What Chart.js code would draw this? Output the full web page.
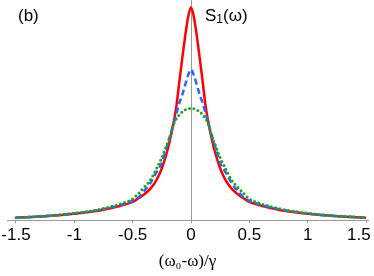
<!DOCTYPE html>
<html>
<head>
<meta charset="utf-8">
<script src="https://cdn.jsdelivr.net/npm/chart.js@4/dist/chart.umd.min.js"></script>
<style>
  html, body { margin: 0; padding: 0; background: #fff; }
  #wrap { width: 374px; height: 276px; position: relative; }
</style>
</head>
<body>
<div id="wrap"><canvas id="chart"></canvas></div>
<script>
// detuning (ω0-ω)/γ
const XS = [-1.5, -1.25, -1.0, -0.8, -0.7, -0.6, -0.5, -0.45, -0.4, -0.35, -0.3, -0.25, -0.2, -0.175, -0.15, -0.125, -0.1, -0.075, -0.05, -0.025,
  0, 0.025, 0.05, 0.075, 0.1, 0.125, 0.15, 0.175, 0.2, 0.25, 0.3, 0.35, 0.4, 0.45, 0.5, 0.6, 0.7, 0.8, 1.0, 1.25, 1.5];

// S1(ω) (red peak = 1)
const RED = [0.012, 0.019, 0.030, 0.044, 0.055, 0.068, 0.086, 0.103, 0.122, 0.147, 0.185, 0.243, 0.332, 0.39, 0.455, 0.537, 0.65, 0.76, 0.864, 0.953,
  1.0, 0.953, 0.864, 0.76, 0.65, 0.537, 0.455, 0.39, 0.332, 0.243, 0.185, 0.147, 0.122, 0.103, 0.086, 0.068, 0.055, 0.044, 0.030, 0.019, 0.012];
const BLUE = [0.012, 0.019, 0.031, 0.047, 0.058, 0.072, 0.091, 0.107, 0.138, 0.173, 0.222, 0.269, 0.359, 0.405, 0.453, 0.50, 0.551, 0.588, 0.635, 0.68,
  0.708, 0.68, 0.635, 0.588, 0.551, 0.50, 0.453, 0.405, 0.359, 0.269, 0.222, 0.173, 0.138, 0.107, 0.091, 0.072, 0.058, 0.047, 0.031, 0.019, 0.012];
const GREEN = [0.012, 0.020, 0.033, 0.049, 0.062, 0.077, 0.10, 0.126, 0.156, 0.187, 0.238, 0.294, 0.364, 0.393, 0.449, 0.477, 0.495, 0.509, 0.518, 0.523,
  0.525, 0.523, 0.518, 0.509, 0.495, 0.477, 0.449, 0.393, 0.364, 0.294, 0.238, 0.187, 0.156, 0.126, 0.10, 0.077, 0.062, 0.049, 0.033, 0.020, 0.012];

const TICKS = [-1.5, -1, -0.5, 0, 0.5, 1, 1.5];
// last label sits a little left of its tick in the original
const TICK_LABELS = ["-1.5", "-1", "-0.5", "0", "0.5", "1", "1.5   "];

const AXIS_GRAY = "#9a9a9a";
const SANS = '"Liberation Sans", Arial, sans-serif';

const pts = (ys) => XS.map((x, i) => ({ x, y: ys[i] }));

// panel label and curve label
const labels = {
  id: "labels",
  afterDraw(chart) {
    const c = chart.ctx;
    c.save();
    c.fillStyle = "#000";
    c.textBaseline = "middle";
    c.font = "17px " + SANS;
    c.fillText("(b)", 18, 16);
    c.fillText("S", 205, 16);
    const w = c.measureText("S").width;
    c.font = "12px " + SANS;
    c.fillText("1", 205 + w, 20);
    const w1 = c.measureText("1").width;
    c.font = "17px " + SANS;
    c.fillText("(ω)", 205 + w + w1, 16);
    c.restore();
  },
};

const line = (data, color, width, dash, order) => ({
  data: pts(data),
  borderColor: color,
  borderWidth: width,
  borderDash: dash,
  borderCapStyle: dash.length && dash[0] === 0 ? "round" : "butt",
  pointRadius: 0,
  cubicInterpolationMode: "monotone",
  fill: false,
  order,
});

new Chart(document.getElementById("chart"), {
  type: "line",
  data: {
    datasets: [
      line(RED, "#ff0000", 2.5, [], 3),
      line(BLUE, "#2f62ff", 2.5, [6, 3.5], 2),
      line(GREEN, "#22a022", 3, [0, 4.4], 1),
    ],
  },
  options: {
    responsive: true,
    maintainAspectRatio: false,
    animation: false,
    layout: { padding: { left: 7, right: 6, top: 0, bottom: 0 } },
    plugins: { legend: { display: false }, tooltip: { enabled: false } },
    scales: {
      x: {
        type: "linear",
        min: -1.577,
        max: 1.517,
        afterBuildTicks: (s) => { s.ticks = TICKS.map((v) => ({ value: v })); },
        afterFit: (s) => { s.paddingLeft = 0; s.paddingRight = 0; },
        ticks: {
          autoSkip: false,
          maxRotation: 0,
          padding: 2,
          color: "#000",
          font: { family: SANS, size: 17 },
          callback: (v, i) => TICK_LABELS[i],
        },
        grid: {
          color: (ctx) => (ctx.tick && ctx.tick.value === 0 ? AXIS_GRAY : "rgba(0,0,0,0)"),
          tickColor: AXIS_GRAY,
          tickLength: 3,
          lineWidth: 1,
        },
        border: { display: true, color: AXIS_GRAY, width: 1 },
        title: {
          display: true,
          text: "(ω₀-ω)/γ",
          color: "#000",
          font: { family: '"Liberation Serif", "DejaVu Serif", serif', size: 17 },
          padding: { top: 4, bottom: 4 },
        },
      },
      y: {
        display: false,
        min: 0,
        max: 1.034,
      },
    },
  },
  plugins: [labels],
});
</script>
</body>
</html>
